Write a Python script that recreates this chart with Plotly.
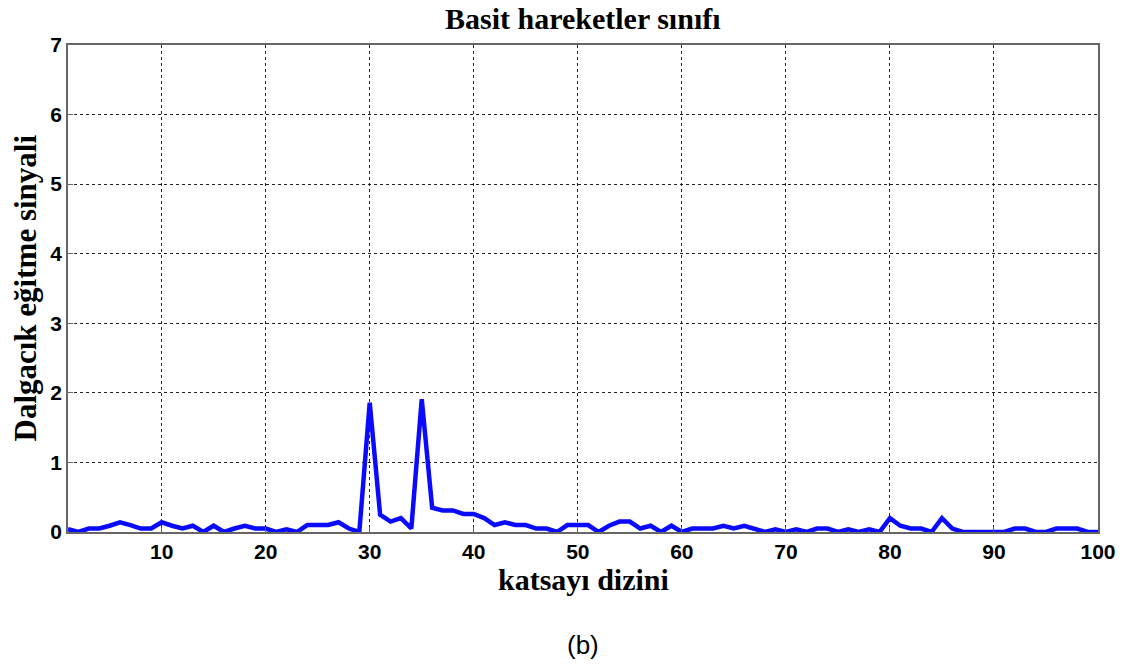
import plotly.graph_objects as go

x_index = list(range(1, 101))
signal = [
    0.04, 0.0, 0.05, 0.05, 0.09, 0.14, 0.10, 0.05, 0.05, 0.14,
    0.09, 0.05, 0.09, 0.0, 0.09, 0.0, 0.05, 0.09, 0.05, 0.05,
    0.0, 0.04, 0.0, 0.10, 0.10, 0.10, 0.14, 0.05, 0.0, 1.86,
    0.25, 0.15, 0.20, 0.05, 1.91, 0.35, 0.31, 0.31, 0.26, 0.26,
    0.20, 0.10, 0.14, 0.10, 0.10, 0.05, 0.05, 0.0, 0.10, 0.10,
    0.10, 0.0, 0.09, 0.15, 0.15, 0.05, 0.09, 0.0, 0.09, 0.0,
    0.05, 0.05, 0.05, 0.09, 0.05, 0.09, 0.05, 0.0, 0.04, 0.0,
    0.04, 0.0, 0.05, 0.05, 0.0, 0.04, 0.0, 0.04, 0.0, 0.20,
    0.09, 0.05, 0.05, 0.0, 0.20, 0.05, 0.0, 0.0, 0.0, 0.0,
    0.0, 0.05, 0.05, 0.0, 0.0, 0.05, 0.05, 0.05, 0.0, 0.0,
]
x_ticks = [10, 20, 30, 40, 50, 60, 70, 80, 90, 100]
y_ticks = [0, 1, 2, 3, 4, 5, 6, 7]

title_text = "Basit hareketler sınıfı"
x_label = "katsayı dizini"
y_label = "Dalgacık eğitme sinyali"
caption = "(b)"

fig = go.Figure()
fig.add_trace(go.Scatter(x=x_index, y=signal, mode="lines",
                         line=dict(color="#0a0aff", width=4.5),
                         showlegend=False, hoverinfo="skip"))

tick_font = dict(family="Liberation Sans, Arial", size=21, color="black", weight="bold")
axis_common = dict(showline=True, mirror=True, linecolor="#666666", linewidth=1.5,
                   showgrid=True, gridcolor="#222222", griddash="dot", gridwidth=1,
                   zeroline=False, ticks="inside", ticklen=5, tickcolor="#666666",
                   tickfont=tick_font)

fig.update_layout(
    width=1128, height=666,
    margin=dict(l=68, r=30, t=45, b=134),
    paper_bgcolor="white", plot_bgcolor="white",
    xaxis=dict(range=[1, 100], tickvals=x_ticks, ticktext=[str(v) for v in x_ticks],
               **axis_common),
    yaxis=dict(range=[0, 7], tickvals=y_ticks, ticktext=[str(v) for v in y_ticks],
               **axis_common),
)

serif = "Liberation Serif, Times New Roman"
fig.add_annotation(text="<b>" + title_text + "</b>", xref="paper", yref="paper",
                   x=0.5, y=1, yshift=27, yanchor="middle", xanchor="center", showarrow=False,
                   font=dict(family=serif, size=30, color="black"))
fig.add_annotation(text="<b>" + x_label + "</b>", xref="paper", yref="paper",
                   x=0.5, y=0, yshift=-47, yanchor="middle", xanchor="center", showarrow=False,
                   font=dict(family=serif, size=30, color="black"))
fig.add_annotation(text="<b>" + y_label + "</b>", xref="paper", yref="paper",
                   x=0, xshift=-43, y=0.5, yanchor="middle", xanchor="center",
                   textangle=-90, showarrow=False,
                   font=dict(family=serif, size=31, color="black"))
fig.add_annotation(text=caption, xref="paper", yref="paper",
                   x=0.5, y=0, yshift=-113, yanchor="middle", xanchor="center", showarrow=False,
                   font=dict(family="Liberation Sans, Arial", size=26, color="black"))

fig.write_html("out.html")
